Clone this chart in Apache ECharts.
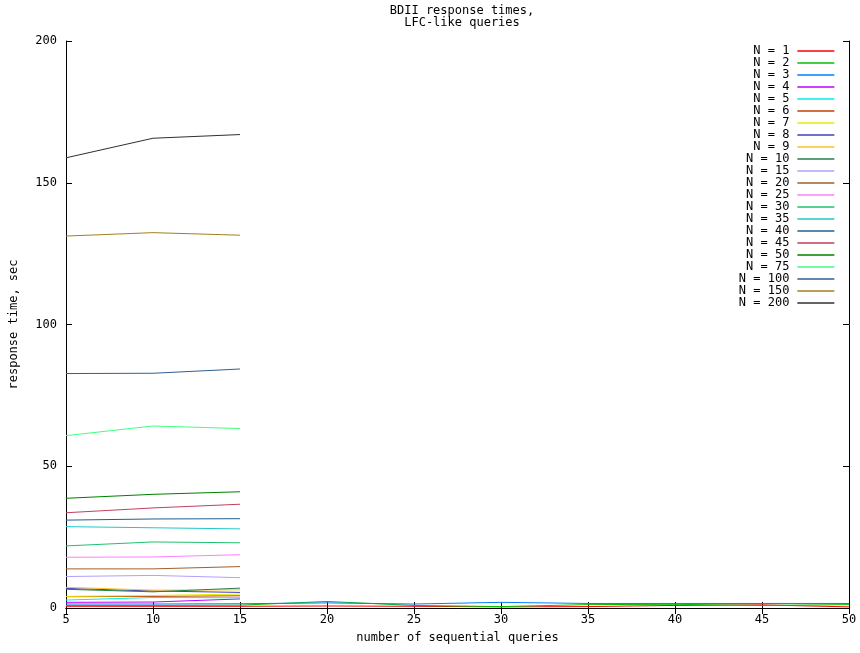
<!DOCTYPE html>
<html>
<head>
<meta charset="utf-8">
<script src="https://cdn.jsdelivr.net/npm/echarts@6/dist/echarts.min.js"></script>
<style>
  html, body { margin: 0; padding: 0; background: #fff; }
  #chart { width: 860px; height: 653px; }
</style>
</head>
<body>
<div id="chart"></div>
<script>
'use strict';

// number of sequential queries
var xs = [5, 10, 15, 20, 25, 30, 35, 40, 45, 50];

var names = ['N = 1', 'N = 2', 'N = 3', 'N = 4', 'N = 5', 'N = 6', 'N = 7', 'N = 8', 'N = 9', 'N = 10',
  'N = 15', 'N = 20', 'N = 25', 'N = 30', 'N = 35', 'N = 40', 'N = 45', 'N = 50', 'N = 75',
  'N = 100', 'N = 150', 'N = 200'];

// response time, sec (small N measured up to 50 queries, the rest up to 15)
var n1 = [0.6, 0.6, 0.6, 0.7, 0.6, 0.4, 0.5, 0.9, 1.1, 0.4];
var n2 = [0.9, 0.9, 1.0, 2.3, 0.9, 0.5, 1.2, 1.3, 0.9, 1.2];
var n3 = [1.4, 1.4, 1.5, 1.8, 1.4, 2.0, 1.6, 1.6, 1.6, 1.6];
var n4 = [2.0, 2.1, 3.2];
var n5 = [2.8, 3.7, 3.6];
var n6 = [4.0, 4.1, 4.3];
var n7 = [4.1, 4.4, 4.9];
var n8 = [6.9, 6.0, 5.5];
var n9 = [7.3, 6.3, 6.4];
var n10 = [6.6, 5.7, 7.0];
var n15 = [11.1, 11.5, 10.7];
var n20 = [13.8, 13.8, 14.6];
var n25 = [17.9, 18.0, 18.8];
var n30 = [21.9, 23.3, 23.0];
var n35 = [28.7, 28.3, 27.9];
var n40 = [31.0, 31.4, 31.5];
var n45 = [33.6, 35.3, 36.6];
var n50 = [38.7, 40.1, 41.0];
var n75 = [60.8, 64.2, 63.3];
var n100 = [82.7, 82.8, 84.3];
var n150 = [131.2, 132.4, 131.5];
var n200 = [158.8, 165.7, 167.0];

var values = [n1, n2, n3, n4, n5, n6, n7, n8, n9, n10, n15, n20, n25, n30, n35, n40, n45, n50, n75, n100, n150, n200];

var colors = ['#ff0000', '#00c000', '#0080ff', '#c000ff', '#00eeee', '#c04000', '#e8e800', '#4040c0',
  '#ffc020', '#208050', '#b0a0ff', '#a0602c', '#ff80ff', '#20c070', '#20c8c8', '#206090',
  '#c04060', '#008000', '#40ff80', '#306090', '#a08020', '#303030'];

var mono = 'DejaVu Sans Mono';

var chart = echarts.init(document.getElementById('chart'));

var series = names.map(function (name, i) {
  return {
    name: name,
    type: 'line',
    symbol: 'none',
    animation: false,
    color: colors[i],
    lineStyle: { width: 1, color: colors[i] },
    data: values[i].map(function (v, j) { return [xs[j], v]; })
  };
});

var frameLine = { show: true, lineStyle: { color: '#000', width: 1 } };
var frameTick = { show: true, inside: true, length: 6, lineStyle: { color: '#000' } };
var labelText = { color: '#000', fontFamily: mono, fontSize: 12 };

var option = {
  backgroundColor: '#fff',
  animation: false,
  title: {
    text: 'BDII response times,\nLFC-like queries',
    left: 457,
    top: 0,
    textAlign: 'center',
    textStyle: { color: '#000', fontFamily: mono, fontSize: 12, fontWeight: 'normal', lineHeight: 12 }
  },
  legend: {
    data: names,
    orient: 'vertical',
    right: 25,
    top: 45,
    align: 'right',
    itemWidth: 37,
    itemHeight: 10,
    itemGap: 0,
    padding: 0,
    itemStyle: { opacity: 0 },
    lineStyle: { width: 1.3 },
    textStyle: { color: '#000', fontFamily: mono, fontSize: 12, lineHeight: 12, padding: [0, 3, 0, 0] }
  },
  grid: { left: 65, right: 11, top: 41, bottom: 45, containLabel: false },
  xAxis: [{
    type: 'value', min: 5, max: 50, interval: 5, position: 'bottom',
    axisLine: frameLine, axisTick: frameTick,
    axisLabel: Object.assign({ margin: 6 }, labelText),
    splitLine: { show: false },
    name: 'number of sequential queries', nameLocation: 'middle', nameGap: 24,
    nameTextStyle: labelText
  }, {
    type: 'value', min: 5, max: 50, interval: 5, position: 'top',
    axisLine: frameLine, axisTick: frameTick,
    axisLabel: { show: false }, splitLine: { show: false }
  }],
  yAxis: [{
    type: 'value', min: 0, max: 200, interval: 50, position: 'left',
    axisLine: frameLine, axisTick: frameTick,
    axisLabel: Object.assign({ margin: 9 }, labelText),
    splitLine: { show: false },
    name: 'response time, sec', nameLocation: 'middle', nameGap: 46,
    nameTextStyle: labelText
  }, {
    type: 'value', min: 0, max: 200, interval: 50, position: 'right',
    axisLine: frameLine, axisTick: frameTick,
    axisLabel: { show: false }, splitLine: { show: false }
  }],
  series: series
};

chart.setOption(option);
</script>
</body>
</html>
